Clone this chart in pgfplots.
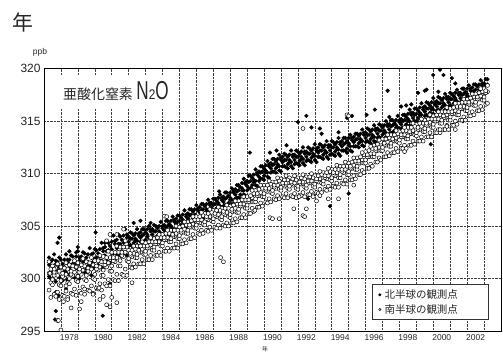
\documentclass[border=0pt]{standalone}
\usepackage{pgfplots}
\usepackage{pgfplotstable}
\usepackage{graphicx}
\usepackage{fontspec}
\pgfplotsset{compat=1.18}
\setmainfont{Liberation Sans}
\newfontfamily\cjk{Noto Sans CJK JP}

\pgfplotstableread{
t n1 n2 n3 s1 s2 s3
1977.3 301.3 300.2 302.0 300.5 298.9 301.6
1977.4 300.5 301.6 300.0 299.6 300.9 298.2
1977.5 301.8 300.7 301.1 301.2 299.4 299.9
1977.6 300.0 302.3 300.6 298.5 300.3 300.6
1977.7 301.4 299.7 301.7 300.1 298.3 301.0
1977.8 300.8 301.6 300.2 300.3 298.7 301.4
1977.9 300.2 301.1 302.0 299.4 300.7 298.0
1978.0 301.1 300.0 301.8 301.1 299.3 299.8
1978.1 300.3 301.4 299.8 298.4 300.2 300.5
1978.2 301.8 300.7 301.1 300.1 298.3 301.0
1978.3 300.0 302.3 300.6 300.4 298.8 301.5
1978.4 301.5 299.8 301.8 299.6 300.9 298.2
1978.5 301.0 301.8 300.4 301.3 299.5 300.0
1978.6 300.4 301.3 302.2 298.6 300.4 300.7
1978.7 301.4 300.3 302.1 300.3 298.5 301.2
1978.8 300.6 301.7 300.1 300.6 299.0 301.7
1978.9 302.1 301.0 301.4 299.8 301.1 298.4
1979.0 300.3 302.6 300.9 301.5 299.7 300.2
1979.1 301.7 300.0 302.0 298.8 300.6 300.9
1979.2 301.3 302.1 300.7 300.4 298.6 301.3
1979.3 300.7 301.6 302.5 300.8 299.2 301.9
1979.4 301.7 300.6 302.4 299.9 301.2 298.5
1979.5 300.9 302.0 300.4 301.6 299.8 300.3
1979.6 302.3 301.2 301.6 298.9 300.7 301.0
1979.7 300.6 302.9 301.2 300.6 298.8 301.5
1979.8 302.0 300.3 302.3 300.9 299.3 302.0
1979.9 301.6 302.4 301.0 300.0 301.3 298.6
1980.0 301.0 301.9 302.8 301.7 299.9 300.4
1980.1 302.0 300.9 302.7 299.1 300.9 301.2
1980.2 301.3 302.4 300.8 300.8 299.0 301.7
1980.3 302.8 301.7 302.1 301.1 299.5 302.2
1980.4 301.1 303.4 301.7 300.3 301.6 298.9
1980.5 302.6 300.9 302.9 302.1 300.3 300.8
1980.6 302.2 303.0 301.6 299.5 301.3 301.6
1980.7 301.7 302.6 303.5 301.1 299.3 302.0
1980.8 302.7 301.6 303.4 301.5 299.9 302.6
1980.9 302.0 303.1 301.5 300.7 302.0 299.3
1981.0 303.5 302.4 302.8 302.5 300.7 301.2
1981.1 301.8 304.1 302.4 299.9 301.7 302.0
1981.2 303.3 301.6 303.6 301.6 299.8 302.5
1981.3 302.9 303.7 302.3 302.0 300.4 303.1
1981.4 302.4 303.3 304.2 301.2 302.5 299.8
1981.5 303.3 302.2 304.0 303.0 301.2 301.7
1981.6 302.6 303.7 302.1 300.4 302.2 302.5
1981.7 304.1 303.0 303.4 302.1 300.3 303.0
1981.8 302.4 304.7 303.0 302.5 300.9 303.6
1981.9 303.9 302.2 304.2 301.7 303.0 300.3
1982.0 303.5 304.0 303.1 302.7 301.6 301.9
1982.1 303.2 303.8 304.4 301.1 302.2 302.4
1982.2 303.8 303.1 304.3 302.1 301.0 302.7
1982.3 303.4 304.1 303.0 302.4 301.4 303.1
1982.4 304.3 303.6 303.8 302.0 302.8 301.1
1982.5 303.2 304.7 303.6 303.1 302.0 302.3
1982.6 304.1 303.0 304.3 301.4 302.5 302.7
1982.7 303.9 304.4 303.5 302.5 301.4 303.1
1982.8 303.5 304.1 304.7 302.8 301.8 303.5
1982.9 304.2 303.5 304.7 302.3 303.1 301.4
1983.0 303.7 304.4 303.3 303.4 302.3 302.6
1983.1 304.7 304.0 304.2 301.8 302.9 303.1
1983.2 303.5 305.0 303.9 302.9 301.8 303.5
1983.3 304.5 303.4 304.7 303.2 302.2 303.9
1983.4 304.2 304.7 303.8 302.7 303.5 301.8
1983.5 303.9 304.5 305.1 303.8 302.7 303.0
1983.6 304.5 303.8 305.0 302.2 303.3 303.5
1983.7 304.1 304.8 303.7 303.3 302.2 303.9
1983.8 305.0 304.3 304.5 303.5 302.5 304.2
1983.9 303.9 305.4 304.3 303.1 303.9 302.2
1984.0 304.8 303.7 305.0 304.2 303.1 303.4
1984.1 304.6 305.1 304.2 302.6 303.7 303.9
1984.2 304.3 304.9 305.5 303.7 302.6 304.3
1984.3 305.0 304.3 305.5 303.9 302.9 304.6
1984.4 304.5 305.2 304.1 303.5 304.3 302.6
1984.5 305.5 304.8 305.0 304.6 303.5 303.8
1984.6 304.4 305.9 304.8 302.9 304.0 304.2
1984.7 305.4 304.3 305.6 304.0 302.9 304.6
1984.8 305.2 305.7 304.8 304.3 303.3 305.0
1984.9 304.8 305.4 306.0 303.8 304.6 302.9
1985.0 305.5 304.8 306.0 304.9 303.8 304.1
1985.1 305.1 305.8 304.7 303.3 304.4 304.6
1985.2 306.1 305.4 305.6 304.4 303.3 305.0
1985.3 305.0 306.5 305.4 304.7 303.7 305.4
1985.4 305.9 304.8 306.1 304.3 305.1 303.4
1985.5 305.7 306.2 305.3 305.4 304.3 304.6
1985.6 305.4 306.0 306.6 303.8 304.9 305.1
1985.7 306.1 305.4 306.6 304.9 303.8 305.5
1985.8 305.7 306.4 305.3 305.2 304.2 305.9
1985.9 306.6 305.9 306.1 304.8 305.6 303.9
1986.0 305.5 307.0 305.9 305.9 304.8 305.1
1986.1 306.5 305.4 306.7 304.3 305.4 305.6
1986.2 306.3 306.8 305.9 305.3 304.2 305.9
1986.3 305.9 306.5 307.1 305.6 304.6 306.3
1986.4 306.6 305.9 307.1 305.2 306.0 304.3
1986.5 306.2 306.9 305.8 306.2 305.1 305.4
1986.6 307.1 306.4 306.6 304.6 305.7 305.9
1986.7 306.0 307.5 306.4 305.6 304.5 306.2
1986.8 307.0 305.9 307.2 305.9 304.9 306.6
1986.9 306.7 307.2 306.3 305.5 306.3 304.6
1987.0 306.4 307.0 307.6 306.5 305.4 305.7
1987.1 307.1 306.4 307.6 304.9 306.0 306.2
1987.2 306.7 307.4 306.3 305.9 304.8 306.5
1987.3 307.7 307.0 307.2 306.1 305.1 306.8
1987.4 306.5 308.0 306.9 305.7 306.5 304.8
1987.5 307.5 306.4 307.7 306.7 305.6 305.9
1987.6 307.3 307.8 306.9 305.1 306.2 306.4
1987.7 307.0 307.6 308.2 306.1 305.0 306.7
1987.8 307.7 307.0 308.2 306.3 305.3 307.0
1987.9 307.2 307.9 306.8 305.9 306.7 305.0
1988.0 308.2 307.5 307.7 306.9 305.8 306.1
1988.1 307.1 308.6 307.5 305.3 306.4 306.6
1988.2 308.2 307.1 308.4 306.4 305.3 307.0
1988.3 308.0 308.5 307.6 306.7 305.7 307.4
1988.4 307.7 308.3 308.9 306.3 307.1 305.4
1988.5 308.4 307.7 308.9 307.4 306.3 306.6
1988.6 308.0 308.7 307.6 305.8 306.9 307.1
1988.7 309.1 308.4 308.6 306.9 305.8 307.5
1988.8 308.0 309.5 308.4 307.1 306.1 307.8
1988.9 309.0 307.9 309.2 306.7 307.5 305.8
1989.0 308.8 309.3 308.4 307.8 306.7 307.0
1989.1 308.6 309.2 309.8 306.2 307.3 307.5
1989.2 309.3 308.6 309.8 307.3 306.2 307.9
1989.3 308.9 309.6 308.5 307.7 306.7 308.4
1989.4 309.9 309.2 309.4 307.3 308.1 306.4
1989.5 308.9 310.4 309.3 308.4 307.3 307.6
1989.6 309.9 308.8 310.1 306.8 307.9 308.1
1989.7 309.7 310.2 309.3 307.9 306.8 308.5
1989.8 309.5 310.1 310.7 308.2 307.2 308.9
1989.9 310.2 309.5 310.7 307.8 308.6 306.9
1990.0 309.8 310.5 309.4 308.9 307.8 308.1
1990.1 310.8 310.1 310.3 307.3 308.4 308.6
1990.2 309.7 311.2 310.1 308.3 307.2 308.9
1990.3 310.7 309.6 310.9 308.6 307.6 309.3
1990.4 310.5 311.0 310.1 308.2 309.0 307.3
1990.5 310.2 310.8 311.4 309.2 308.1 308.4
1990.6 310.9 310.2 311.4 307.6 308.7 308.9
1990.7 310.5 311.2 310.1 308.6 307.5 309.2
1990.8 311.4 310.7 310.9 308.9 307.9 309.6
1990.9 310.3 311.8 310.7 308.5 309.3 307.6
1991.0 311.3 310.2 311.5 309.5 308.4 308.7
1991.1 311.1 311.6 310.7 307.8 308.9 309.1
1991.2 310.7 311.3 311.9 308.8 307.7 309.4
1991.3 311.3 310.6 311.8 309.1 308.1 309.8
1991.4 310.9 311.6 310.5 308.6 309.4 307.7
1991.5 311.8 311.1 311.3 309.6 308.5 308.8
1991.6 310.7 312.2 311.1 307.9 309.0 309.2
1991.7 311.6 310.5 311.8 308.9 307.8 309.5
1991.8 311.3 311.8 310.9 309.1 308.1 309.8
1991.9 311.0 311.6 312.2 308.6 309.4 307.7
1992.0 311.6 310.9 312.1 309.6 308.5 308.8
1992.1 311.2 311.9 310.8 307.9 309.0 309.2
1992.2 312.1 311.4 311.6 309.0 307.9 309.6
1992.3 311.0 312.5 311.4 309.2 308.2 309.9
1992.4 311.9 310.8 312.1 308.7 309.5 307.8
1992.5 311.6 312.1 311.2 309.7 308.6 308.9
1992.6 311.3 311.9 312.5 308.0 309.1 309.3
1992.7 311.9 311.2 312.4 309.1 308.0 309.7
1992.8 311.5 312.2 311.1 309.3 308.3 310.0
1992.9 312.4 311.7 311.9 308.8 309.6 307.9
1993.0 311.3 312.8 311.7 309.8 308.7 309.0
1993.1 312.2 311.1 312.4 308.2 309.3 309.5
1993.2 312.0 312.5 311.6 309.2 308.1 309.8
1993.3 311.6 312.2 312.8 309.5 308.5 310.2
1993.4 312.2 311.5 312.7 309.1 309.9 308.2
1993.5 311.8 312.5 311.4 310.1 309.0 309.3
1993.6 312.7 312.0 312.2 308.5 309.6 309.8
1993.7 311.6 313.1 312.0 309.5 308.4 310.1
1993.8 312.5 311.4 312.7 309.8 308.8 310.5
1993.9 312.2 312.7 311.8 309.4 310.2 308.5
1994.0 311.9 312.5 313.1 310.4 309.3 309.6
1994.1 312.5 311.8 313.0 308.8 309.9 310.1
1994.2 312.1 312.8 311.7 309.8 308.7 310.4
1994.3 313.0 312.3 312.5 310.1 309.1 310.8
1994.4 311.9 313.4 312.3 309.6 310.4 308.7
1994.5 312.8 311.7 313.0 310.7 309.6 309.9
1994.6 312.6 313.1 312.2 309.1 310.2 310.4
1994.7 312.2 312.8 313.4 310.1 309.0 310.7
1994.8 312.9 312.2 313.4 310.4 309.4 311.1
1994.9 312.4 313.1 312.0 309.9 310.7 309.0
1995.0 313.4 312.7 312.9 311.0 309.9 310.2
1995.1 312.2 313.7 312.6 309.4 310.5 310.7
1995.2 313.2 312.1 313.4 310.5 309.4 311.1
1995.3 313.0 313.5 312.6 310.8 309.8 311.5
1995.4 312.6 313.2 313.8 310.4 311.2 309.5
1995.5 313.3 312.6 313.8 311.5 310.4 310.7
1995.6 312.9 313.6 312.5 309.9 311.0 311.2
1995.7 313.8 313.1 313.3 311.0 309.9 311.6
1995.8 312.7 314.2 313.1 311.3 310.3 312.0
1995.9 313.7 312.6 313.9 311.0 311.8 310.1
1996.0 313.4 313.9 313.0 312.1 311.0 311.3
1996.1 313.1 313.7 314.3 310.5 311.6 311.8
1996.2 313.7 313.0 314.2 311.6 310.5 312.2
1996.3 313.3 314.0 312.9 311.9 310.9 312.6
1996.4 314.2 313.5 313.7 311.6 312.4 310.7
1996.5 313.1 314.6 313.5 312.7 311.6 311.9
1996.6 314.1 313.0 314.3 311.1 312.2 312.4
1996.7 313.8 314.3 313.4 312.2 311.1 312.8
1996.8 313.5 314.1 314.7 312.5 311.5 313.2
1996.9 314.1 313.4 314.6 312.2 313.0 311.3
1997.0 313.7 314.4 313.3 313.3 312.2 312.5
1997.1 314.6 313.9 314.1 311.6 312.7 312.9
1997.2 313.5 315.0 313.9 312.7 311.6 313.3
1997.3 314.5 313.4 314.7 313.0 312.0 313.7
1997.4 314.2 314.7 313.8 312.6 313.4 311.7
1997.5 313.9 314.5 315.1 313.7 312.6 312.9
1997.6 314.6 313.9 315.1 312.0 313.1 313.3
1997.7 314.1 314.8 313.7 313.1 312.0 313.7
1997.8 315.1 314.4 314.6 313.4 312.4 314.1
1997.9 314.0 315.5 314.4 313.0 313.8 312.1
1998.0 314.9 313.8 315.1 314.0 312.9 313.2
1998.1 314.7 315.2 314.3 312.4 313.5 313.7
1998.2 314.4 315.0 315.6 313.5 312.4 314.1
1998.3 315.1 314.4 315.6 313.7 312.7 314.4
1998.4 314.7 315.4 314.3 313.3 314.1 312.4
1998.5 315.7 315.0 315.2 314.4 313.3 313.6
1998.6 314.6 316.1 315.0 312.7 313.8 314.0
1998.7 315.6 314.5 315.8 313.8 312.7 314.4
1998.8 315.3 315.8 314.9 314.1 313.1 314.8
1998.9 315.0 315.6 316.2 313.7 314.5 312.8
1999.0 315.7 315.0 316.2 314.7 313.6 313.9
1999.1 315.3 316.0 314.9 313.1 314.2 314.4
1999.2 316.3 315.6 315.8 314.2 313.1 314.8
1999.3 315.2 316.7 315.6 314.5 313.5 315.2
1999.4 316.1 315.0 316.3 314.0 314.8 313.1
1999.5 315.9 316.4 315.5 315.1 314.0 314.3
1999.6 315.6 316.2 316.8 313.5 314.6 314.8
1999.7 316.2 315.5 316.7 314.6 313.5 315.2
1999.8 315.8 316.5 315.4 314.9 313.9 315.6
1999.9 316.8 316.1 316.3 314.4 315.2 313.5
2000.0 315.7 317.2 316.1 315.5 314.4 314.7
2000.1 316.6 315.5 316.8 313.9 315.0 315.2
2000.2 316.4 316.9 316.0 315.0 313.9 315.6
2000.3 316.1 316.7 317.3 315.2 314.2 315.9
2000.4 316.7 316.0 317.2 314.8 315.6 313.9
2000.5 316.3 317.0 315.9 315.9 314.8 315.1
2000.6 317.2 316.5 316.7 314.2 315.3 315.5
2000.7 316.1 317.6 316.5 315.3 314.2 315.9
2000.8 317.1 316.0 317.3 315.6 314.6 316.3
2000.9 316.8 317.3 316.4 315.1 315.9 314.2
2001.0 316.5 317.1 317.7 316.2 315.1 315.4
2001.1 317.1 316.4 317.6 314.6 315.7 315.9
2001.2 316.7 317.4 316.3 315.7 314.6 316.3
2001.3 317.7 317.0 317.2 316.0 315.0 316.7
2001.4 316.5 318.0 316.9 315.6 316.4 314.7
2001.5 317.5 316.4 317.7 316.7 315.6 315.9
2001.6 317.2 317.7 316.8 315.1 316.2 316.4
2001.7 316.9 317.5 318.1 316.2 315.1 316.8
2001.8 317.6 316.9 318.1 316.4 315.4 317.1
2001.9 317.1 317.8 316.7 316.0 316.8 315.1
2002.0 318.1 317.4 317.6 317.1 316.0 316.3
2002.1 316.9 318.4 317.3 315.5 316.6 316.8
2002.2 317.9 316.8 318.1 316.6 315.5 317.2
2002.3 317.7 318.2 317.3 316.9 315.9 317.6
2002.4 317.3 317.9 318.5 316.5 317.3 315.6
2002.5 318.0 317.3 318.5 317.6 316.5 316.8
2002.6 317.6 318.3 317.2 316.0 317.1 317.3
2002.7 318.5 317.8 318.0 317.1 316.0 317.7
2002.8 317.4 318.9 317.8 317.4 316.4 318.1
2002.9 318.4 317.3 318.6 317.0 317.8 316.1
2003.0 318.1 318.6 317.7 318.1 317.0 317.3
2003.1 317.8 318.4 319.0 316.6 317.7 317.9
2003.2 318.5 317.8 319.0 317.8 316.7 318.4
}\maindata

\pgfplotstableread{
t v
1977.9 303.9
1977.8 303.4
1977.7 298.7
1977.8 298.3
1977.7 296.9
1977.65 296.1
1977.85 298.4
1978.3 299.0
1978.5 302.6
1978.9 302.5
1979.0 303.0
1979.6 298.9
1980.05 304.4
1980.47 296.45
1980.6 303.4
1980.9 299.5
1982.3 305.3
1982.7 305.5
1983.3 305.3
1987.35 308.3
1989.16 312.0
1990.35 312.0
1990.74 312.2
1991.33 312.7
1992.0 314.9
1992.5 315.5
1992.8 314.4
1993.3 314.3
1993.4 313.8
1994.4 313.95
1994.9 315.3
1995.2 315.5
1996.06 315.6
1996.55 316.1
1997.3 317.9
1997.4 315.4
1998.1 316.4
1998.4 316.5
1998.7 316.6
1999.1 317.7
1999.5 317.9
1999.6 318.0
2000.0 319.4
2000.3 317.8
2000.4 319.9
2000.6 319.4
2001.1 319.1
2001.3 318.6
1999.85 312.8
2001.75 315.0
1995.0 308.1
1993.9 306.9
1992.6 307.6
}\nhout

\pgfplotstableread{
t v
1977.35 300.5
1977.6 300.9
1977.8 296.0
1977.85 296.0
1978.0 295.1
1978.15 297.8
1978.3 299.3
1978.4 298.0
1978.6 297.2
1979.1 297.1
1979.2 297.8
1979.4 299.0
1979.9 298.5
1980.25 299.1
1980.3 298.0
1980.5 298.3
1980.7 297.5
1980.9 297.3
1981.0 298.2
1981.3 297.7
1982.2 299.6
1980.7 303.6
1981.3 304.2
1981.7 304.7
1980.9 304.2
1984.1 305.95
1984.25 305.9
1987.43 302.0
1987.6 301.6
1989.46 306.5
1990.35 305.8
1990.5 305.7
1990.9 305.7
1991.76 306.65
1992.07 307.8
1992.3 306.0
1992.4 305.9
1992.5 306.65
1992.9 307.8
1993.1 307.4
1993.3 307.9
1993.8 307.6
1994.4 307.6
1995.3 308.9
1992.3 314.3
1994.9 315.6
1995.0 315.5
1998.3 312.1
2000.4 314.2
2000.8 314.5
2001.3 314.2
}\shout

\begin{document}
\begin{tikzpicture}
\useasboundingbox (0,0) rectangle (503bp,352bp);
\begin{axis}[
  at={(44bp,21bp)}, anchor=south west,
  width=457bp, height=262.3bp, scale only axis,
  xmin=1977, xmax=2004, ymin=295, ymax=320,
  xtick={1977,1978,...,2004}, xticklabels={},
  extra x ticks={1978.5,1980.5,1982.5,1984.5,1986.5,1988.5,1990.5,1992.5,1994.5,1996.5,1998.5,2000.5,2002.5},
  extra x tick labels={1978,1980,1982,1984,1986,1988,1990,1992,1994,1996,1998,2000,2002},
  extra x tick style={grid=none, major tick length=0pt,
     tick label style={font=\fontsize{8.5}{9}\selectfont, text=black!85, yshift=-0.5bp}},
  ytick={295,300,...,320},
  yticklabel style={font=\fontsize{12}{12}\selectfont, text=black!85},
  /pgf/number format/assume math mode=true,
  grid=major,
  major grid style={black!75, densely dotted, line width=0.5pt},
  major tick length=0pt,
  axis line style={line width=0.9pt, black},
  legend style={at={(0.972,0.042)}, anchor=south east, draw=black!80,
     line width=0.6pt, fill=white,
     font=\cjk\fontsize{10.5}{11}\selectfont, text=black!85,
     inner xsep=2bp, inner ysep=3bp, row sep=0.5bp},
  legend cell align=left,
  legend image code/.code={\path[draw=none, fill=none] (0cm,0cm) -- (0.3cm,0cm);
     \draw[#1, mark size=1.2pt] plot coordinates {(0.2cm,0cm)};},
]
\addplot[only marks, mark=*, mark size=1.9pt, black] table[x=t,y=n1]{\maindata};
\addlegendentry{北半球の観測点\kern 26bp}
\addplot[forget plot, only marks, mark=*, mark size=1.9pt, black] table[x=t,y=n2]{\maindata};
\addplot[forget plot, only marks, mark=*, mark size=1.9pt, black] table[x=t,y=n3]{\maindata};
\addplot[forget plot, only marks, mark=*, mark size=1.9pt, black] table[x=t,y=v]{\nhout};
\addplot[only marks, mark=*, mark size=2.0pt, draw=black, fill=white, line width=0.5pt] table[x=t,y=s1]{\maindata};
\addlegendentry{南半球の観測点\kern 26bp}
\addplot[forget plot, only marks, mark=*, mark size=2.0pt, draw=black, fill=white, line width=0.5pt] table[x=t,y=s2]{\maindata};
\addplot[forget plot, only marks, mark=*, mark size=2.0pt, draw=black, fill=white, line width=0.5pt] table[x=t,y=s3]{\maindata};
\addplot[forget plot, only marks, mark=*, mark size=2.0pt, draw=black, fill=white, line width=0.5pt] table[x=t,y=v]{\shout};
\end{axis}
% title box
\fill[white] (44.6bp,244bp) rectangle (171bp,277bp);
\node[anchor=west, inner sep=0pt, text=black!85] at (63bp,260.5bp)
  {{\cjk\fontsize{14}{14}\selectfont 亜酸化窒素}\hspace{3.5bp}\scalebox{0.66}[1]{\fontsize{26}{26}\selectfont N}\scalebox{0.85}[1]{\fontsize{14}{14}\selectfont 2}\scalebox{0.66}[1]{\fontsize{26}{26}\selectfont O}};
% unit and axis labels
\node[text=black!85, inner sep=0pt] at (40bp,299.5bp) {\fontsize{8.5}{9}\selectfont ppb};
\node[text=black!85, inner sep=0pt] at (22.5bp,329.5bp) {\cjk\fontsize{21}{21}\selectfont 年};
\node[text=black!85, inner sep=0pt] at (265bp,3.2bp) {\cjk\fontsize{6}{6}\selectfont 年};
\end{tikzpicture}
\end{document}
